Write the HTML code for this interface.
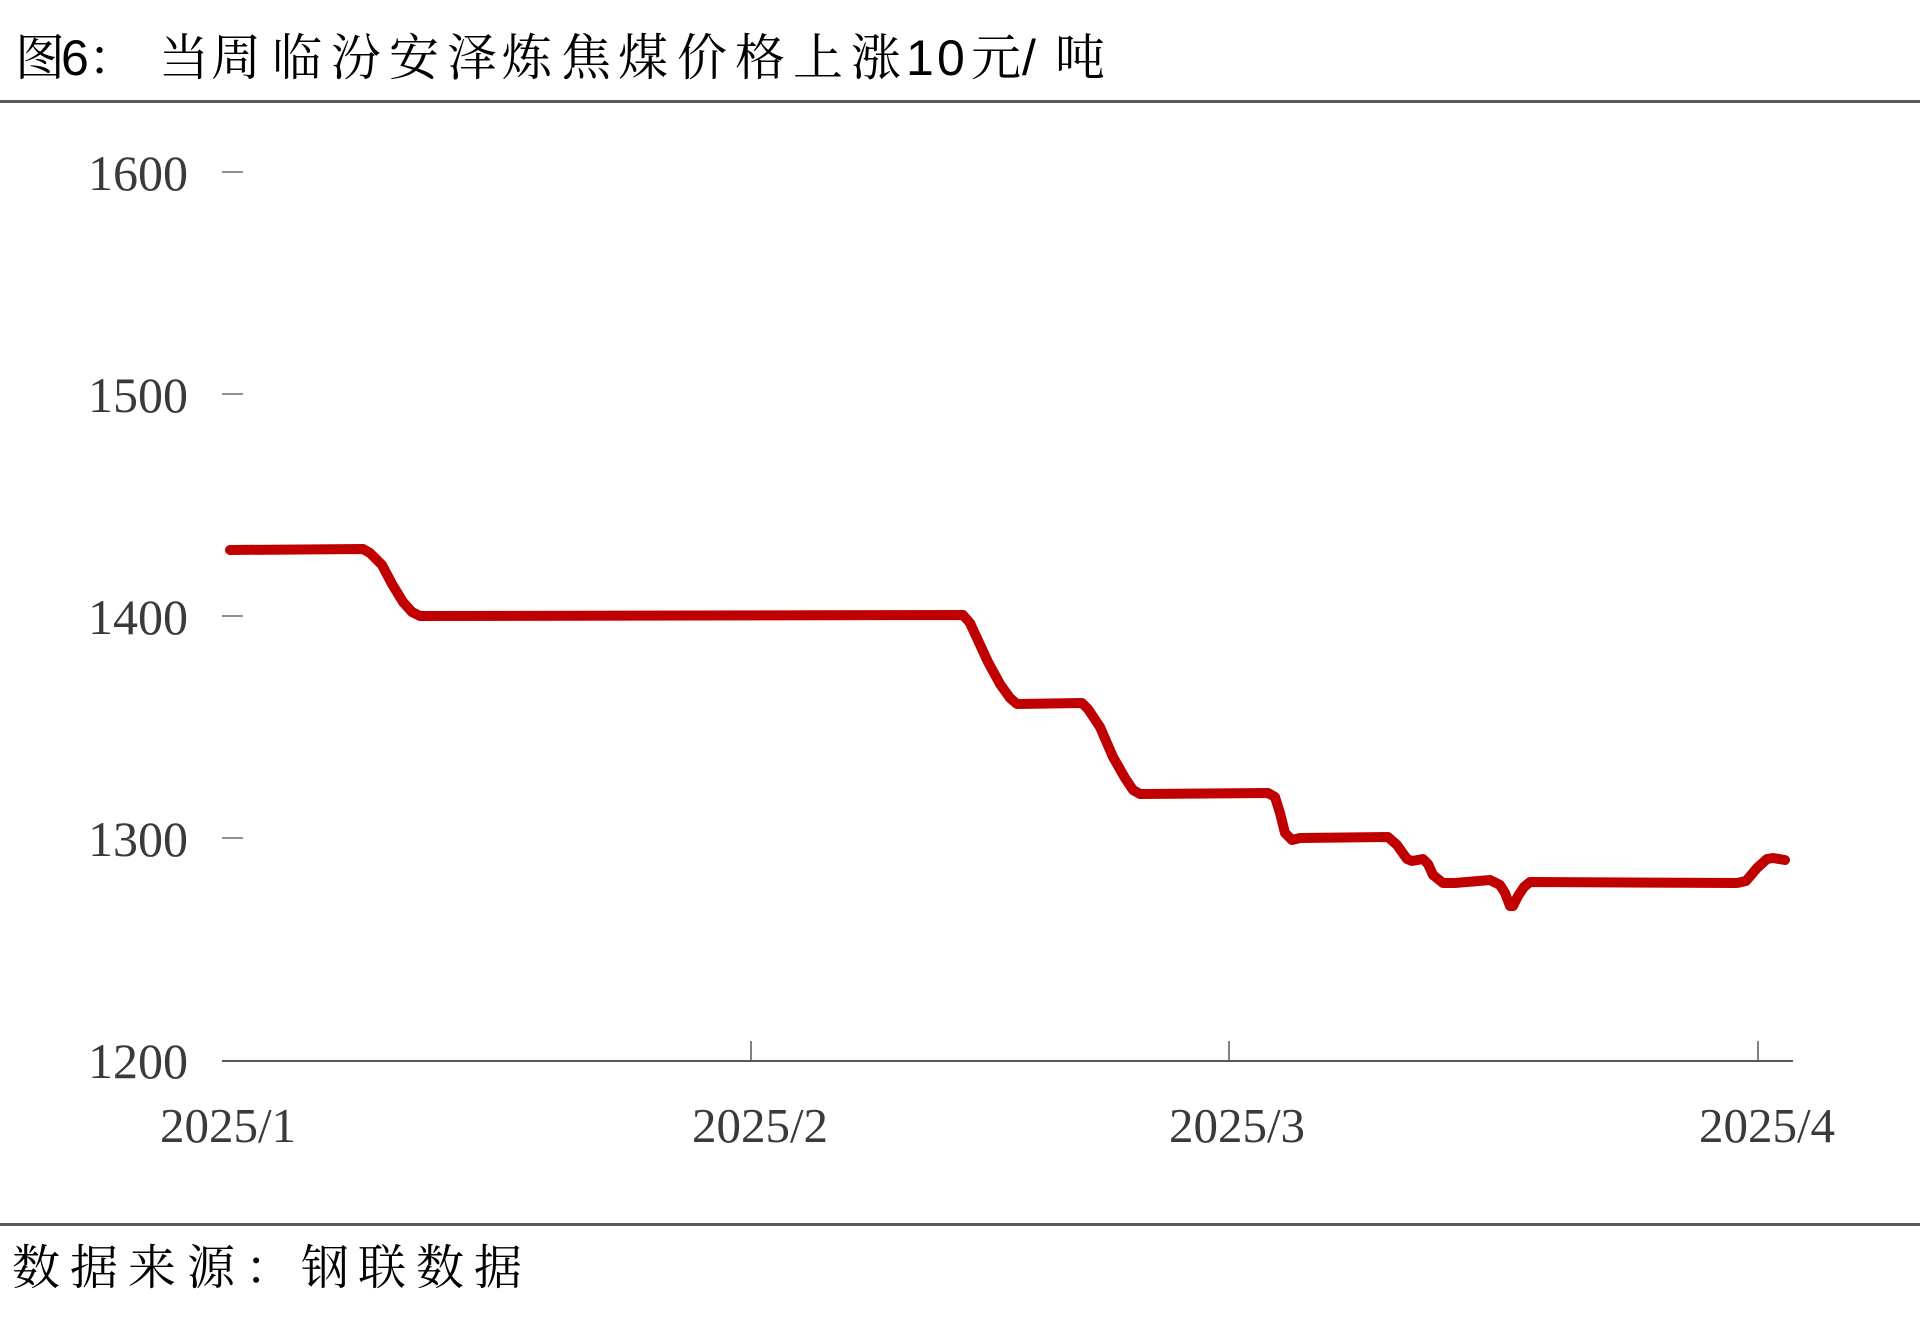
<!DOCTYPE html>
<html>
<head>
<meta charset="utf-8">
<style>
html,body{margin:0;padding:0;background:#fff;}
body{width:1920px;height:1331px;overflow:hidden;}
svg{display:block;}
.t{font-family:"Liberation Sans","Noto Serif CJK SC","Noto Sans CJK SC",serif;font-size:50px;fill:#000;}
.f{font-family:"Liberation Serif","Noto Serif CJK SC","Noto Sans CJK SC",serif;font-size:48px;fill:#000;}
.n{font-family:"Liberation Serif",serif;font-size:49px;fill:#3a3a3a;}
.y{font-family:"Liberation Serif",serif;font-size:50px;fill:#3a3a3a;}
</style>
</head>
<body>
<svg width="1920" height="1331" viewBox="0 0 1920 1331" xmlns="http://www.w3.org/2000/svg">
  <rect x="0" y="0" width="1920" height="1331" fill="#fff"/>
  <!-- Title -->
  <text class="t" y="75" x="15 61 88 159 211 272 331 389 447 502 561 618 677 735 793 851 906 937 971 1022 1055">图6：当周临汾安泽炼焦煤价格上涨10元/吨</text>
  <!-- header line -->
  <rect x="0" y="100" width="1920" height="3" fill="#595959"/>

  <!-- Y axis labels -->
  <g class="y" text-anchor="end">
    <text x="188" y="190">1600</text>
    <text x="188" y="412">1500</text>
    <text x="188" y="634">1400</text>
    <text x="188" y="856">1300</text>
    <text x="188" y="1078">1200</text>
  </g>
  <!-- Y ticks -->
  <g stroke="#6a6a6a" stroke-width="1.5">
    <line x1="222" y1="172" x2="243" y2="172"/>
    <line x1="222" y1="394" x2="243" y2="394"/>
    <line x1="222" y1="616" x2="243" y2="616"/>
    <line x1="222" y1="838" x2="243" y2="838"/>
  </g>
  <!-- X axis -->
  <line x1="222" y1="1061" x2="1793" y2="1061" stroke="#595959" stroke-width="2"/>
  <g stroke="#595959" stroke-width="1.5">
    <line x1="751" y1="1041" x2="751" y2="1061"/>
    <line x1="1229" y1="1041" x2="1229" y2="1061"/>
    <line x1="1758" y1="1041" x2="1758" y2="1061"/>
  </g>
  <g class="n" text-anchor="middle">
    <text x="228" y="1142">2025/1</text>
    <text x="760" y="1142">2025/2</text>
    <text x="1237" y="1142">2025/3</text>
    <text x="1767" y="1142">2025/4</text>
  </g>

  <!-- Series -->
  <polyline fill="none" stroke="#c00000" stroke-width="10" stroke-linecap="round" stroke-linejoin="round"
    points="230,550 363,549 370,553 382,565 392,584 403,602 412,612 420,616 963,615 970,623 988,662 1000,684 1010,698 1017,704 1082,703 1088,709 1100,727 1113,757 1125,778 1133,790 1140,794 1268,793 1275,797 1280,813 1285,833 1292,840 1300,838 1388,837 1397,845 1407,859 1412,861 1423,859 1428,864 1433,875 1443,883 1455,883 1490,880 1500,885 1505,893 1510,906 1513,906 1518,896 1524,887 1530,882 1737,883 1746,881 1752,874 1757,868 1767,859 1773,858 1785,860"/>

  <!-- footer line -->
  <rect x="0" y="1223" width="1920" height="3" fill="#595959"/>
  <!-- footer text -->
  <text class="f" y="1284" x="12 70 128 187 245 301 358 416 474">数据来源：钢联数据</text>
</svg>
</body>
</html>
